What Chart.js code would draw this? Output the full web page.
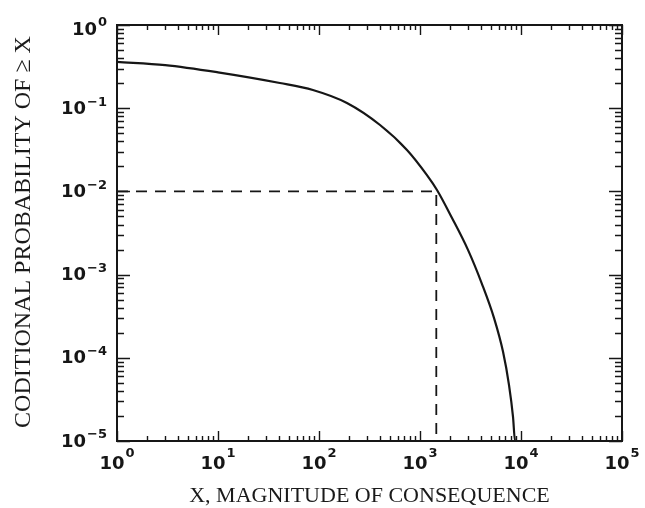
<!DOCTYPE html>
<html>
<head>
<meta charset="utf-8">
<script src="https://cdn.jsdelivr.net/npm/chart.js@4.4.1/dist/chart.umd.min.js"></script>
<style>
  html, body { margin: 0; padding: 0; background: #fff; }
  canvas { display: block; }
</style>
</head>
<body>
<canvas id="chart" width="645" height="508"></canvas>
<script>
// curve
const magnitude = [1, 3, 10, 41, 87, 189, 402, 743, 1172, 1473, 2075, 2986, 4110, 5410, 6640, 7610, 8340, 8730, 100000];
const probability = [0.36, 0.33, 0.27, 0.201, 0.1655, 0.1155, 0.0628, 0.0315, 0.0157, 0.0104, 0.00479, 0.00198, 0.00077, 0.0003, 0.000118, 0.000047, 0.0000194, 0.00001, 0.00001];

// dashed guide at P = 1e-2
const guideX = 1450;
const guideP = 0.01;

// axis decades and exponent labels
const xDecades = [1, 10, 100, 1000, 10000, 100000];
const xExponents = ["0", "1", "2", "3", "4", "5"];
const yDecades = [1, 0.1, 0.01, 0.001, 0.0001, 0.00001];
const yExponents = ["0", "\u22121", "\u22122", "\u22123", "\u22124", "\u22125"];

const xTitle = "X, MAGNITUDE OF CONSEQUENCE";
const yTitle = "CODITIONAL PROBABILITY OF \u2265 X";

const ink = "#161616";

// frame, inward ticks, labels and titles
const framePlugin = {
  id: "frame",
  afterDraw(chart) {
    const { ctx, chartArea: a, scales } = chart;
    const x = scales.x;
    const y = scales.y;
    ctx.save();
    ctx.strokeStyle = ink;
    ctx.fillStyle = ink;

    // minor + major ticks on all four sides
    ctx.lineWidth = 1.4;
    ctx.beginPath();
    xDecades.forEach((d) => {
      for (let m = 1; m <= 9; m++) {
        const v = d * m;
        if (v > 100000) break;
        const px = Math.round(x.getPixelForValue(v)) + 0.5;
        const len = m === 1 ? 10 : 5;
        ctx.moveTo(px, a.bottom);
        ctx.lineTo(px, a.bottom - len);
        ctx.moveTo(px, a.top);
        ctx.lineTo(px, a.top + len);
      }
    });
    yDecades.forEach((d) => {
      for (let m = 1; m <= 9; m++) {
        const v = d * m;
        if (v > 1) break;
        const py = Math.round(y.getPixelForValue(v)) + 0.5;
        const len = m === 1 ? 13 : 7;
        ctx.moveTo(a.left, py);
        ctx.lineTo(a.left + len, py);
        ctx.moveTo(a.right, py);
        ctx.lineTo(a.right - len, py);
      }
    });
    ctx.stroke();

    ctx.lineWidth = 2;
    ctx.strokeRect(a.left, a.top, a.right - a.left, a.bottom - a.top);

    const baseFont = "bold 18px 'DejaVu Sans'";
    const expFont = "bold 13px 'DejaVu Sans'";
    ctx.textBaseline = "middle";

    // x labels: 10^n centred under tick
    xDecades.forEach((d, i) => {
      const px = x.getPixelForValue(d);
      ctx.font = baseFont;
      const w1 = ctx.measureText("10").width;
      ctx.font = expFont;
      const w2 = ctx.measureText(xExponents[i]).width;
      const start = px - (w1 + w2 + 1) / 2;
      ctx.textAlign = "left";
      ctx.font = baseFont;
      ctx.fillText("10", start, a.bottom + 23);
      ctx.font = expFont;
      ctx.fillText(xExponents[i], start + w1 + 1, a.bottom + 13);
    });

    // y labels: right aligned left of axis (top one nudged down as in the source)
    yDecades.forEach((d, i) => {
      const py = y.getPixelForValue(d) + (i === 0 ? 4 : 0);
      ctx.font = expFont;
      const w2 = ctx.measureText(yExponents[i]).width;
      const right = a.left - 10;
      ctx.textAlign = "right";
      ctx.fillText(yExponents[i], right, py - 6);
      ctx.font = baseFont;
      ctx.fillText("10", right - w2 - 1, py + 1);
    });

    // titles
    ctx.fillStyle = "#1a1a1a";
    ctx.font = "22px 'Liberation Serif'";
    ctx.textAlign = "center";
    ctx.fillText(xTitle, (a.left + a.right) / 2, 496);

    ctx.save();
    ctx.translate(24, 232);
    ctx.rotate(-Math.PI / 2);
    ctx.font = "24px 'Liberation Serif'";
    ctx.fillText(yTitle, 0, 0);
    ctx.restore();

    ctx.restore();
  },
};

const ctx = document.getElementById("chart").getContext("2d");
new Chart(ctx, {
  type: "line",
  data: {
    datasets: [
      {
        label: "P(>= X)",
        data: magnitude.map((m, i) => ({ x: m, y: probability[i] })),
        borderColor: ink,
        borderWidth: 2.2,
        pointRadius: 0,
        cubicInterpolationMode: "monotone",
        fill: false,
      },
      {
        label: "guide",
        data: [
          { x: 1, y: guideP },
          { x: guideX, y: guideP },
          { x: guideX, y: 0.00001 },
        ],
        borderColor: ink,
        borderWidth: 1.8,
        borderDash: [11, 8],
        pointRadius: 0,
        tension: 0,
        fill: false,
      },
    ],
  },
  options: {
    responsive: false,
    animation: false,
    layout: { padding: { left: 117, top: 25, right: 23, bottom: 67 } },
    plugins: { legend: { display: false }, tooltip: { enabled: false } },
    scales: {
      x: { type: "logarithmic", min: 1, max: 100000, display: false },
      y: { type: "logarithmic", min: 0.00001, max: 1, display: false },
    },
  },
  plugins: [framePlugin],
});
</script>
</body>
</html>
